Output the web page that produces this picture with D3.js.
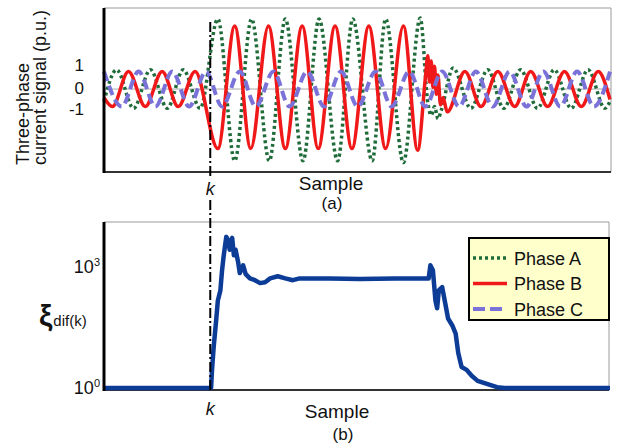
<!DOCTYPE html>
<html lang="en">
<head>
    <meta charset="UTF-8">
    <title>Three-phase current signal and differential index</title>
    <script src="https://d3js.org/d3.v7.min.js"></script>
    <style>
        body { margin: 0; background: #fff; }
        svg { display: block; font-family: "Liberation Sans", Arial, sans-serif; }
        .frame { stroke: #9a9a9a; stroke-width: 1; fill: none; }
        .xaxis { stroke: #333; stroke-width: 2; }
        .yaxis { stroke: #000; stroke-width: 3; }
        .label { fill: #111; }
    </style>
</head>
<body>
    <svg width="630" height="447"></svg>

    <script>
        // Sample index of the fault inception (k) and sample range
        const sampleRange = [0, 600];
        const faultSample = 126;

        // Phase currents [sample, p.u.] read at peaks / troughs
        const phaseA = [[0,-0.7],[15,1.1],[35,-1.1],[55,1.1],[75,-1.1],[94,1.1],[114,-1.1],
            [135,4.0],[155,-4.1],[175,4.0],[196,-4.1],[215,4.0],[236,-4.1],[255,4.0],[277,-4.1],
            [295,4.0],[318,-4.1],[334,4.0],[355,-4.2],[375,4.06],
            [384,-0.8],[388,-1.5],[392,-1.0],[396,-1.7],[400,-1.2],[414,1.2],
            [435,-1.1],[455,1.1],[474,-1.1],[494,1.1],[514,-1.1],[534,1.1],[554,-1.1],[574,1.1],[594,-1.1],[600,-0.7]];

        const phaseB = [[0,-0.5],[10,-1],[29,1],[49,-1],[69,1],[88,-1],[108,1],
            [135,-3.4],[155,3.6],[174,-3.4],[195,3.6],[215,-3.4],[235,3.6],[254,-3.4],[274,3.6],
            [294,-3.4],[314,3.6],[334,-3.4],[355,3.6],[372,-3.5],
            [381,0.6],[384,1.9],[386,0.4],[388,1.6],[390,0.1],[392,1.3],[394,-0.3],[396,0.8],[399,-0.9],[402,-0.5],[407,-1.3],
            [428,1],[447,-1],[467,1],[487,-1],[506,1],[526,-1],[546,1],[566,-1],[586,1],[600,-0.6]];

        const phaseC = [[0,1],[21,-1],[41,1],[61,-1],[81,1],[101,-1],[121,1],[140,-1],[161,1],[180,-1],
            [201,1],[220,-1],[241,1],[261,-1],[281,1],[301,-1],[322,1],[341,-1],[362,1],[381,-1],
            [401,1],[421,-1],[441,1],[461,-1],[481,1],[501,-1],[521,1],[541,-1],[561,1],[581,-1],[600,1]];

        // xi_dif(k) [sample, value] (log axis)
        const xiDif = [[0,1],[127,1],[128,2.6],[130,10],[133,47],[135,145],[138,257],[140,810],[142,1900],
            [145,5400],[147,4600],[149,2600],[152,5100],[154,1900],[156,2600],[159,1300],[161,690],[165,1070],
            [168,650],[173,510],[179,460],[185,390],[191,410],[197,510],[206,575],[215,510],[224,460],[232,510],
            [268,510],[303,490],[345,510],[385,510],[387,1070],[390,810],[393,145],[395,93],[397,257],[401,310],
            [404,145],[408,52],[413,35],[417,22],[420,7.4],[424,3.3],[430,2.8],[436,2.0],[443,1.5],[454,1.26],
            [466,1.05],[475,1],[600,1]];

        // Tick labels
        const topTicks = [1, 0, -1];
        const bottomTicks = [{ v: 1, exp: "0" }, { v: 1000, exp: "3" }];

        // Legend entries
        const legendNames = ["Phase A", "Phase B", "Phase C"];
        const colors = ["#1f6b3a", "#f01818", "#7a72d8"];
        const dashes = ["3,3", null, "10,5"];
        const widths = [3.5, 3.5, 4];

        const svg = d3.select("svg");

        // Panel geometry
        const left = 104, right = 610;
        const top1 = 8, bottom1 = 172;
        const top2 = 222, bottom2 = 390;

        const x = d3.scaleLinear().domain(sampleRange).range([left, right]);
        const y1 = d3.scaleLinear().domain([-4.74, 4.63]).range([bottom1, top1]);
        const y2 = d3.scaleLog().domain([1, Math.pow(10, 4.1)]).range([388, top2]);

        // ---------- Panel (a) ----------
        svg.append("path").attr("class", "frame")
           .attr("d", `M${left},${top1}H${right + 1}V${bottom1}`);
        svg.append("line")
           .attr("x1", left).attr("x2", right + 1)
           .attr("y1", y1(0)).attr("y2", y1(0))
           .attr("stroke", "#aaa").attr("stroke-width", 1);

        const line1 = d3.line()
            .x(d => x(d[0]))
            .y(d => y1(d[1]))
            .curve(d3.curveMonotoneX);

        [phaseA, phaseB, phaseC].forEach((series, i) => {
            svg.append("path")
               .datum(series)
               .attr("d", line1)
               .attr("fill", "none")
               .attr("stroke", colors[i])
               .attr("stroke-width", widths[i])
               .attr("stroke-dasharray", dashes[i]);
        });

        svg.append("line").attr("class", "xaxis")
           .attr("x1", left).attr("x2", right + 1).attr("y1", bottom1).attr("y2", bottom1);
        svg.append("line").attr("class", "yaxis")
           .attr("x1", left).attr("x2", left).attr("y1", top1).attr("y2", bottom1 + 1);

        const ax1 = svg.append("g")
           .attr("transform", `translate(${left},0)`)
           .call(d3.axisLeft(y1).tickValues(topTicks).tickSize(0).tickPadding(20)
                 .tickFormat(d => d === -1 ? "-1" : d));
        ax1.select(".domain").remove();
        ax1.selectAll("text")
           .attr("font-size", 17)
           .attr("font-family", "Liberation Sans, Arial, sans-serif")
           .attr("fill", "#111")
           .attr("dy", d => d === 1 ? "-0.05em" : d === 0 ? "0.25em" : "0.45em");

        // y label (two lines, rotated)
        const yl = svg.append("text").attr("class", "label")
           .attr("transform", "translate(0,165) rotate(-90)")
           .attr("font-size", 18);
        yl.append("tspan").attr("x", 0).attr("y", 29).text("Three-phase");
        yl.append("tspan").attr("x", 0).attr("y", 46).text("current signal (p.u.)");

        svg.append("text").attr("class", "label")
           .attr("x", x(faultSample)).attr("y", 195)
           .attr("text-anchor", "middle").attr("font-size", 18).attr("font-style", "italic")
           .text("k");
        svg.append("text").attr("class", "label")
           .attr("x", 331).attr("y", 190)
           .attr("text-anchor", "middle").attr("font-size", 19)
           .text("Sample");
        svg.append("text").attr("class", "label")
           .attr("x", 332).attr("y", 209)
           .attr("text-anchor", "middle").attr("font-size", 17)
           .text("(a)");

        // ---------- Panel (b) ----------
        svg.append("path").attr("class", "frame")
           .attr("d", `M${left},${top2}H${right - 1}V${bottom2}`);
        svg.append("line").attr("class", "xaxis")
           .attr("x1", left).attr("x2", right - 1).attr("y1", bottom2).attr("y2", bottom2);

        const line2 = d3.line()
            .x(d => x(d[0]))
            .y(d => y2(d[1]));

        svg.append("path")
           .datum(xiDif)
           .attr("d", line2)
           .attr("fill", "none")
           .attr("stroke", "#0c3c96")
           .attr("stroke-width", 4.5)
           .attr("stroke-linejoin", "round");

        svg.append("line").attr("class", "yaxis")
           .attr("x1", left).attr("x2", left).attr("y1", top2).attr("y2", bottom2 + 1);

        bottomTicks.forEach(t => {
            const tx = svg.append("text").attr("class", "label")
               .attr("x", 100).attr("y", y2(t.v) + 6)
               .attr("text-anchor", "end").attr("font-size", 18);
            tx.append("tspan").text("10");
            tx.append("tspan").attr("dy", -7).attr("font-size", 11).text(t.exp);
        });

        const xi = svg.append("text").attr("class", "label").attr("x", 39).attr("y", 326);
        xi.append("tspan").attr("font-size", 30).attr("font-weight", "bold").text("ξ");
        xi.append("tspan").attr("font-size", 15).attr("dx", 1).text("dif(k)");

        svg.append("text").attr("class", "label")
           .attr("x", x(faultSample)).attr("y", 415)
           .attr("text-anchor", "middle").attr("font-size", 18).attr("font-style", "italic")
           .text("k");
        svg.append("text").attr("class", "label")
           .attr("x", 337).attr("y", 418)
           .attr("text-anchor", "middle").attr("font-size", 19)
           .text("Sample");
        svg.append("text").attr("class", "label")
           .attr("x", 343).attr("y", 440)
           .attr("text-anchor", "middle").attr("font-size", 17)
           .text("(b)");

        // Fault instant marker (dash-dot) through both panels
        [[22, 178], [200, bottom2]].forEach(seg => {
            svg.append("line")
               .attr("x1", x(faultSample)).attr("x2", x(faultSample))
               .attr("y1", seg[0]).attr("y2", seg[1])
               .attr("stroke", "#000").attr("stroke-width", 2)
               .attr("stroke-dasharray", "10,3,2,3");
        });

        // ---------- Legend ----------
        const lg = svg.append("g").attr("transform", "translate(469,238)");
        lg.append("rect")
          .attr("width", 140).attr("height", 82)
          .attr("fill", "#ffffcc").attr("stroke", "#000").attr("stroke-width", 2);
        legendNames.forEach((name, i) => {
            const ly = 20 + i * 25.5;
            lg.append("line")
              .attr("x1", 4).attr("x2", 38).attr("y1", ly).attr("y2", ly)
              .attr("stroke", colors[i]).attr("stroke-width", widths[i])
              .attr("stroke-dasharray", i === 2 ? "12,5" : dashes[i]);
            lg.append("text").attr("class", "label")
              .attr("x", 45).attr("y", ly + 6.5)
              .attr("font-size", 18)
              .text(name);
        });
    </script>
</body>
</html>
